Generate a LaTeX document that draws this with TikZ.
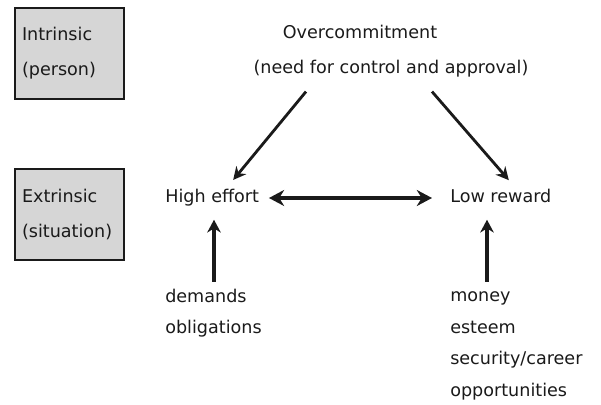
\documentclass[tikz,border=0pt]{standalone}
\usepackage{fontspec}
\setmainfont{DejaVu Sans}
\usetikzlibrary{arrows.meta, positioning, calc}
\definecolor{BoxGray}{HTML}{D6D6D6}
\definecolor{InkDark}{HTML}{1A1A1A}
\tikzset{
  levelbox/.style={draw=InkDark, line width=1.2pt, fill=BoxGray, align=left,
    minimum width=2.725cm, minimum height=2.275cm, text width=2.375cm,
    inner xsep=0.175cm, text=InkDark, font=\fontsize{12.5}{25}\selectfont},
  lbl/.style={inner sep=2pt, text=InkDark, font=\fontsize{12.5}{15}\selectfont},
  listtxt/.style={inner sep=0pt, align=left, text=InkDark,
    font=\fontsize{12.5}{22.4}\selectfont},
  diag/.style={-{Stealth[length=3.2mm, width=3.2mm]}, line width=2pt, draw=InkDark},
  push/.style={-{Stealth[length=3.2mm, width=3.4mm]}, line width=2.6pt, draw=InkDark},
  both/.style={{Stealth[length=3.8mm, width=4mm]}-{Stealth[length=3.8mm, width=4mm]},
    line width=3.4pt, draw=InkDark},
}

\begin{document}
\begin{tikzpicture}
  \useasboundingbox (0,0) rectangle (15.025,10.125);
  % person / situation levels
  \node[levelbox] (intr) at (1.7375,8.7875) {Intrinsic\\(person)};
  \node[levelbox] (extr) at (1.7375,4.7625) {Extrinsic\\(situation)};
  % top of the triangle
  \node[lbl] (oc) at (9.0,9.325) {Overcommitment};
  \node[lbl] (ocsub) at (9.775,8.4) {(need for control and approval)};
  % effort / reward
  \node[lbl, anchor=base west] (effort) at (4.055,5.05) {High effort};
  \node[lbl, anchor=base west] (reward) at (11.18,5.05) {Low reward};
  \node[listtxt, anchor=north west] (demands) at (4.125,2.91) {demands\\obligations};
  \node[listtxt, anchor=north west] (money) at (11.25,2.83)
    {money\\esteem\\security/career\\opportunities};
  % connectors
  \draw[diag] ([shift={(-2.125,-0.275)}]ocsub.south) -- ([shift={(0.525,0.165)}]effort.north);
  \draw[diag] ([shift={(1.025,-0.275)}]ocsub.south) -- ([shift={(0.2,0.16)}]reward.north);
  \draw[both] ([shift={(0.17,0.125)}]effort.base east) -- ([shift={(-0.38,0.125)}]reward.base west);
  \draw[push, shorten >=0.25cm] ([shift={(1.225,0.17)}]demands.north west) coordinate (dU)
    -- (dU |- effort.south);
  \draw[push, shorten >=0.25cm] ([shift={(0.925,0.245)}]money.north west) coordinate (mU)
    -- (mU |- effort.south);
\end{tikzpicture}
\end{document}
